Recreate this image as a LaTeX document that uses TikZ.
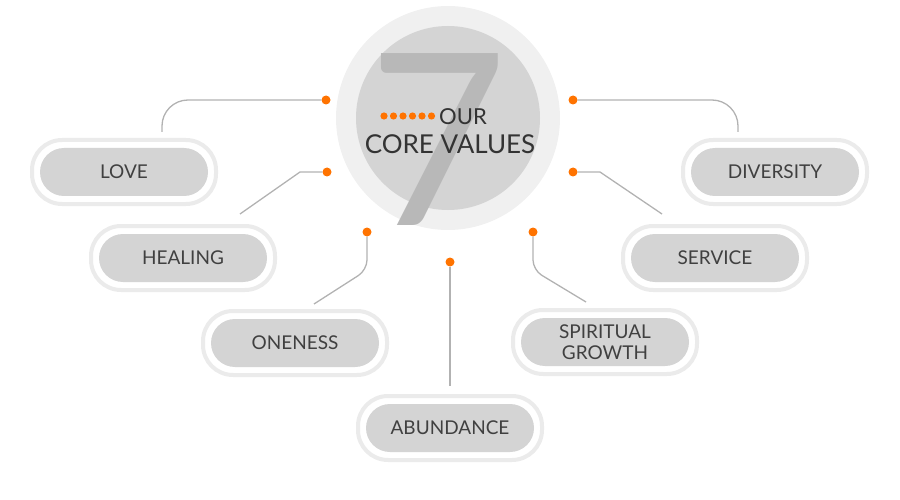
\documentclass[tikz,border=0pt]{standalone}
\usepackage{fontspec}
\setmainfont{Lato}
\begin{document}
\begin{tikzpicture}[x=1pt,y=-1pt,
  pill/.style={draw=black!8,line width=4pt,fill=white,rounded corners=30pt,minimum width=184pt,minimum height=64pt},
  pin/.style={fill=black!17,rounded corners=24pt,minimum width=168pt,minimum height=48pt,text=black!75,font=\fontsize{19}{21}\selectfont,align=center},
  dot/.style={circle,fill=orange!90!red,inner sep=0pt,minimum size=9pt},
  link/.style={draw=black!30,line width=1.3pt}]
\useasboundingbox (0,0) rectangle (900,500);
\fill[black!6] (448,118) circle (112);
\fill[black!17] (448,118) circle (92);
\node[text=black!28,font=\fontsize{240}{240}\selectfont] (seven) at (438,140) {7};
\node[text=black!80,font=\fontsize{22}{24}\selectfont] (our) at (463,117) {OUR};
\node[text=black!80,font=\fontsize{26}{28}\selectfont] (core) at (450,144) {CORE VALUES};
\foreach \i in {0,...,5}{\fill[orange!90!red] (384+\i*9.5,116) circle (3.6);}
\foreach \n/\t/\x/\y in {love/LOVE/124/172, heal/HEALING/183/258, one/ONENESS/295/343, abun/ABUNDANCE/450/428, spir/{SPIRITUAL\\GROWTH}/605/342, serv/SERVICE/715/258, div/DIVERSITY/775/172}{
  \node[pill] (\n o) at (\x,\y) {};
  \node[pin] (\n) at (\x,\y) {\t};
}
\node[dot] (d1) at (326,100) {};
\node[dot] (d2) at (327,172) {};
\node[dot] (d3) at (367,232) {};
\node[dot] (d4) at (450,262) {};
\node[dot] (d5) at (533,232) {};
\node[dot] (d6) at (573,172) {};
\node[dot] (d7) at (573,100) {};
\draw[link,rounded corners=26pt] (d1) -- (162,100) -- (162,132);
\draw[link] (d2) -- (300,172) -- (240,214);
\draw[link,rounded corners=10pt] (d3) -- (367,270) -- (314,304);
\draw[link] (d4) -- (450,386);
\draw[link,rounded corners=10pt] (d5) -- (533,270) -- (586,302);
\draw[link] (d6) -- (600,172) -- (662,214);
\draw[link,rounded corners=26pt] (d7) -- (738,100) -- (738,132);
\end{tikzpicture}
\end{document}
